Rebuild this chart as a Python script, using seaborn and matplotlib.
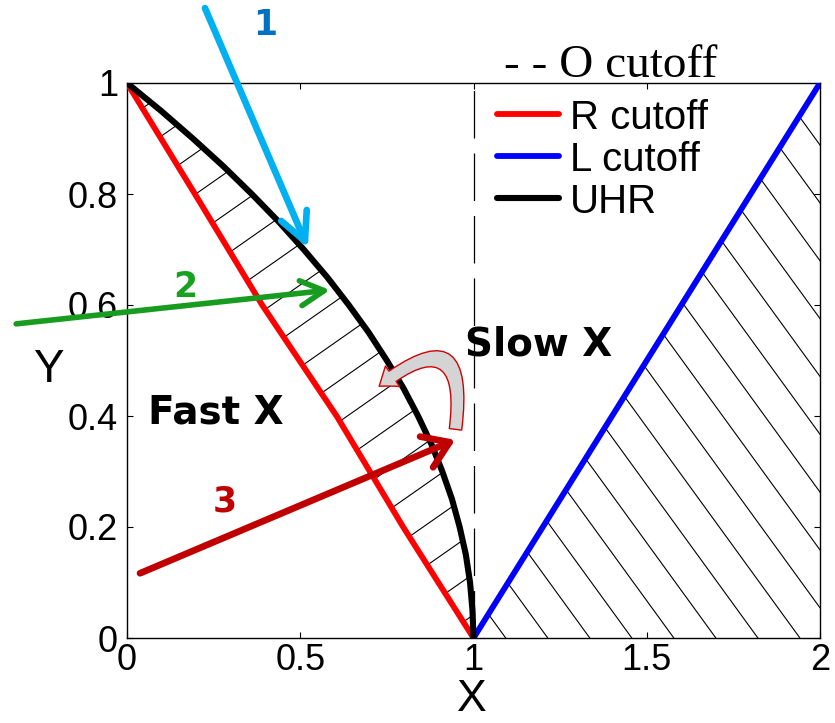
import numpy as np
import matplotlib
matplotlib.use("Agg")
import matplotlib.pyplot as plt
import seaborn as sns
from matplotlib.patches import Polygon, FancyArrowPatch
from matplotlib.collections import LineCollection

# ---------------- data ----------------
r_y = [1.0, 0.8, 0.6, 0.4, 0.2, 0.0]
r_x = [0.0, 0.196, 0.39, 0.605, 0.797, 1.0]

uhr_y = [1.0, 0.95, 0.9, 0.85, 0.8, 0.75, 0.7, 0.65, 0.6, 0.55, 0.5, 0.45, 0.4,
         0.35, 0.3, 0.25, 0.2, 0.15, 0.1, 0.05, 0.0]
uhr_x = [0.0, 0.098, 0.19, 0.278, 0.36, 0.438, 0.51, 0.578, 0.64, 0.698, 0.75,
         0.798, 0.84, 0.878, 0.91, 0.938, 0.96, 0.978, 0.99, 0.997, 1.0]

l_x = [1.0, 1.5, 2.0]
l_y = [0.0, 0.5, 1.0]

o_x = [1.0, 1.0]
o_y = [0.0, 1.0]

x_ticks = [0, 0.5, 1, 1.5, 2]
x_tick_labels = ["0", "0.5", "1", "1.5", "2"]
y_ticks = [0, 0.2, 0.4, 0.6, 0.8, 1]
y_tick_labels = ["0", "0.2", "0.4", "0.6", "0.8", "1"]

legend_labels = ["R cutoff", "L cutoff", "UHR"]

# wave arrows: (start, end) in data coordinates
arrow1_start, arrow1_end = (0.225, 1.135), (0.522, 0.703)
arrow2_start, arrow2_end = (-0.32, 0.566), (0.586, 0.627)
arrow3_start, arrow3_end = (0.0375, 0.1166), (0.947, 0.357)
curl_start, curl_end = (0.947, 0.371), (0.7215, 0.4505)

# ---------------- style ----------------
sns.set_theme(style="white")
plt.rcParams["font.family"] = ["Liberation Sans", "DejaVu Sans"]
for key in ["text.color", "axes.labelcolor", "xtick.color", "ytick.color",
            "xtick.labelcolor", "ytick.labelcolor", "axes.edgecolor"]:
    plt.rcParams[key] = "black"

fig = plt.figure(figsize=(8.35, 7.23), dpi=100)
ax = fig.add_axes([127 / 835, (723 - 638) / 723, 693 / 835, 555 / 723])
ax.set_xlim(0, 2)
ax.set_ylim(0, 1)

sns.lineplot(x=r_x, y=r_y, sort=False, estimator=None, color="#ff0000",
             lw=4.2, ax=ax, label=legend_labels[0], zorder=4)
sns.lineplot(x=l_x, y=l_y, sort=False, estimator=None, color="#0000ff",
             lw=4.2, ax=ax, label=legend_labels[1], zorder=4)
sns.lineplot(x=uhr_x, y=uhr_y, sort=False, estimator=None, color="black",
             lw=4.4, ax=ax, label=legend_labels[2], zorder=4)
ax.plot(o_x, o_y, color="black", lw=0.9, linestyle=(0, (38, 12)), zorder=3)


# ---------------- hatching (clipped parallel lines) ----------------
def hatch_region(poly_xy, angle_deg, spacing_px, phase_xy, lw=0.8):
    T = ax.transData
    pts = T.transform(np.asarray(poly_xy))
    phase = T.transform(np.asarray(phase_xy))
    th = np.deg2rad(angle_deg)
    d = np.array([np.cos(th), np.sin(th)])
    n = np.array([-d[1], d[0]])
    proj = (pts - phase) @ n
    along = (pts - phase) @ d
    kmin = int(np.floor(proj.min() / spacing_px)) - 1
    kmax = int(np.ceil(proj.max() / spacing_px)) + 1
    segs = []
    for k in range(kmin, kmax + 1):
        c = phase + k * spacing_px * n
        p0 = c + (along.min() - 20) * d
        p1 = c + (along.max() + 20) * d
        segs.append(T.inverted().transform(np.array([p0, p1])))
    poly = Polygon(poly_xy, closed=True, transform=ax.transData,
                   fill=False, edgecolor="none")
    ax.add_patch(poly)
    lc = LineCollection(segs, colors="black", linewidths=lw, zorder=2)
    ax.add_collection(lc)
    lc.set_clip_path(poly)


left_poly = list(zip(uhr_x, uhr_y)) + list(zip(r_x[::-1], r_y[::-1]))
hatch_region(left_poly, 35, 33.6, (0.26, 0.753))
right_poly = list(zip(l_x, l_y)) + [(l_x[-1], l_y[0])]
hatch_region(right_poly, -54, 34.0, (1.25, 0.282))

# ---------------- arrows ----------------
def wave_arrow(start, end, color, lw, hl, hw):
    ax.annotate("", xy=end, xytext=start, xycoords="data",
                annotation_clip=False,
                arrowprops=dict(arrowstyle=f"->,head_length={hl},head_width={hw}",
                                color=color, lw=lw, shrinkA=0, shrinkB=0,
                                mutation_scale=20), zorder=6)


wave_arrow(arrow1_start, arrow1_end, "#00b0f0", 4.8, 1.0, 0.5)
wave_arrow(arrow2_start, arrow2_end, "#179c1f", 4.0, 0.85, 0.45)
wave_arrow(arrow3_start, arrow3_end, "#c00000", 4.8, 0.9, 0.6)

curl = FancyArrowPatch(curl_start, curl_end,
                       connectionstyle="arc3,rad=1.25",
                       arrowstyle="simple,head_length=0.6,head_width=0.9,tail_width=0.45",
                       mutation_scale=20, facecolor="#d4d4d4", edgecolor="#d00000",
                       lw=1.0, zorder=7)
ax.add_patch(curl)

comic = dict(family="DejaVu Sans", fontweight="bold")
ax.text(0.398, 1.105, "1", color="#0070c0", fontsize=25, ha="center", va="center", **comic)
ax.text(0.167, 0.633, "2", color="#18a020", fontsize=25, ha="center", va="center", **comic)
ax.text(0.283, 0.246, "3", color="#c00000", fontsize=25, ha="center", va="center", **comic)
ax.text(0.06, 0.407, "Fast X", color="black", fontsize=28, ha="left", va="center", **comic)
ax.text(0.975, 0.528, "Slow X", color="black", fontsize=28, ha="left", va="center", **comic)

ax.text(1.088, 1.011, "- - O cutoff", family="Liberation Serif", fontsize=34,
        ha="left", va="baseline", color="black")

# ---------------- axes styling ----------------
ax.set_xticks(x_ticks)
ax.set_xticklabels(x_tick_labels)
ax.set_yticks(y_ticks)
ax.set_yticklabels(y_tick_labels)
ax.tick_params(axis="both", direction="in", length=4, width=0.8, color="black",
               labelcolor="black", labelsize=26, top=True, right=True,
               bottom=True, left=True)
ax.tick_params(axis="x", pad=3.5)
ax.tick_params(axis="y", pad=6.5)
for s in ax.spines.values():
    s.set_color("black")
    s.set_linewidth(1.0)
    s.set_visible(True)

ax.set_xlabel("X", fontsize=32, color="black")
ax.xaxis.label.set_va("baseline")
ax.xaxis.set_label_coords(0.498, -0.132)
ax.set_ylabel("Y", fontsize=33, rotation=0, color="black")
ax.yaxis.label.set_va("baseline")
ax.yaxis.label.set_ha("center")
ax.yaxis.set_label_coords(-0.114, 0.461)

handles, labels = ax.get_legend_handles_labels()
ax.legend(handles[:3], legend_labels, loc="upper left", bbox_to_anchor=(0.534, 0.972),
          frameon=False, fontsize=29, handlelength=1.54, handletextpad=0.27,
          labelspacing=0.1, borderpad=0, borderaxespad=0)

fig.savefig("out.png", dpi=100)
